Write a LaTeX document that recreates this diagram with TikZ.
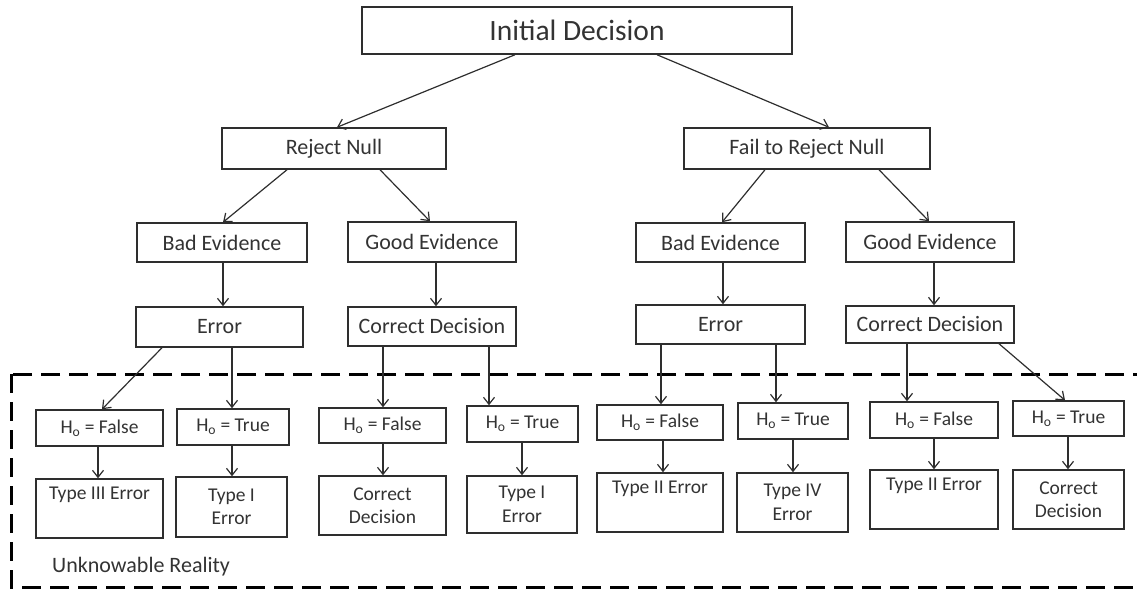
\documentclass[tikz,border=0pt]{standalone}
\usepackage{fontspec}
\setmainfont{Carlito}
\usetikzlibrary{arrows.meta}
\definecolor{linec}{HTML}{2E2E2E}
\definecolor{txtc}{HTML}{333333}
\begin{document}
\begin{tikzpicture}[x=1pt,y=-1pt,
  bx/.style={draw=linec, line width=1.5pt, fill=white, inner sep=0pt, text=txtc, align=center},
  lvA/.style={bx, font=\fontsize{29.5}{34}\selectfont},
  lvB/.style={bx, font=\fontsize{22}{26}\selectfont},
  lvC/.style={bx, font=\fontsize{19.5}{23.5}\selectfont},
  arr/.style={draw=linec, line width=1.2pt, -{Straight Barb[length=7pt,width=11pt,line width=1.2pt]}},
  region/.style={draw=black, line width=3pt, dash pattern=on 19pt off 9pt},
]
\useasboundingbox (0,0) rectangle (1137,589);

% dashed region
\draw[region] (11,374) rectangle (1138.5,587);
\node[anchor=west, inner sep=0pt, text=txtc, font=\fontsize{22}{26}\selectfont] (UR) at (52,567) {Unknowable Reality};

% top levels
\node[lvA, minimum width=430pt, minimum height=47pt] (ID) at (577,30.5) {Initial Decision};
\node[lvB, minimum width=224pt, minimum height=41pt] (RN) at (334,148.5) {Reject Null};
\node[lvB, minimum width=246pt, minimum height=41pt] (FRN) at (807,148.5) {Fail to Reject Null};

\node[lvB, minimum width=170pt, minimum height=39pt] (BEL) at (222,242.5) {Bad Evidence};
\node[lvB, minimum width=168pt, minimum height=40pt] (GEL) at (432,242) {Good Evidence};
\node[lvB, minimum width=167pt, minimum height=40pt] (ERL) at (219.5,327) {Error};
\node[lvB, minimum width=168pt, minimum height=39pt] (CDL) at (432,326.5) {Correct Decision};

\node[lvB, minimum width=169pt, minimum height=39pt] (BER) at (720.5,242.5) {Bad Evidence};
\node[lvB, minimum width=168pt, minimum height=40pt] (GER) at (930,242) {Good Evidence};
\node[lvB, minimum width=169pt, minimum height=39pt] (ERR) at (720.5,324.5) {Error};
\node[lvB, minimum width=168pt, minimum height=37pt] (CDR) at (930,324.5) {Correct Decision};

% hypothesis level
\node[lvC, minimum width=127pt, minimum height=36pt] (HA) at (99.5,428) {H\textsubscript{o} = False};
\node[lvC, minimum width=112pt, minimum height=36pt] (HB) at (233,427) {H\textsubscript{o} = True};
\node[lvC, minimum width=127pt, minimum height=35pt] (HC) at (382.5,425.5) {H\textsubscript{o} = False};
\node[lvC, minimum width=111pt, minimum height=36pt] (HD) at (522.5,424) {H\textsubscript{o} = True};
\node[lvC, minimum width=126pt, minimum height=35pt] (HE) at (660,422.5) {H\textsubscript{o} = False};
\node[lvC, minimum width=110pt, minimum height=36pt] (HF) at (793,421) {H\textsubscript{o} = True};
\node[lvC, minimum width=128pt, minimum height=36pt] (HG) at (934,420) {H\textsubscript{o} = False};
\node[lvC, minimum width=111pt, minimum height=35pt] (HH) at (1068.5,418.5) {H\textsubscript{o} = True};

% outcomes
\node[lvC, minimum width=127pt, minimum height=59pt] (OA) at (99.5,508.5) {Type III Error\\ \strut};
\node[lvC, minimum width=111pt, minimum height=60pt] (OB) at (231.5,507) {Type I\\Error};
\node[lvC, minimum width=127pt, minimum height=59pt] (OC) at (382.5,505.5) {Correct\\Decision};
\node[lvC, minimum width=110pt, minimum height=57pt] (OD) at (522,504.5) {Type I\\Error};
\node[lvC, minimum width=126pt, minimum height=59pt] (OE) at (660,502.5) {Type II Error\\ \strut};
\node[lvC, minimum width=111pt, minimum height=59pt] (OF) at (792.5,502.5) {Type IV\\Error};
\node[lvC, minimum width=128pt, minimum height=59pt] (OG) at (934,499.5) {Type II Error\\ \strut};
\node[lvC, minimum width=111pt, minimum height=59pt] (OH) at (1068.5,499.5) {Correct\\Decision};

% connectors
\draw[arr] (ID.south -| 515,0) -- (RN.north -| 337,0);
\draw[arr] (ID.south -| 657,0) -- (FRN.north -| 829,0);
\draw[arr] (RN.south -| 287,0) -- (BEL.north -| 223,0);
\draw[arr] (RN.south -| 380,0) -- (GEL.north -| 430,0);
\draw[arr] (FRN.south -| 765,0) -- (BER.north -| 722,0);
\draw[arr] (FRN.south -| 879,0) -- (GER.north -| 929,0);

\draw[arr] (BEL.south -| 223,0) -- (ERL.north -| 223,0);
\draw[arr] (GEL.south -| 436,0) -- (CDL.north -| 436,0);
\draw[arr] (BER.south -| 723,0) -- (ERR.north -| 723,0);
\draw[arr] (GER.south -| 934,0) -- (CDR.north -| 934,0);

\draw[arr] (ERL.south -| 162,0) -- (HA.north -| 102,0);
\draw[arr] (ERL.south -| 232,0) -- (HB.north -| 232,0);
\draw[arr] (CDL.south -| 383,0) -- (HC.north -| 383,0);
\draw[arr] (CDL.south -| 489,0) -- (HD.north -| 489,0);
\draw[arr] (ERR.south -| 661,0) -- (HE.north -| 661,0);
\draw[arr] (ERR.south -| 776,0) -- (HF.north -| 776,0);
\draw[arr] (CDR.south -| 907,0) -- (HG.north -| 907,0);
\draw[arr] (CDR.south -| 999,0) -- (HH.north -| 1065,0);

\draw[arr] (HA.south -| 98,0) -- (OA.north -| 98,0);
\draw[arr] (HB.south -| 232,0) -- (OB.north -| 232,0);
\draw[arr] (HC.south -| 383,0) -- (OC.north -| 383,0);
\draw[arr] (HD.south -| 522,0) -- (OD.north -| 522,0);
\draw[arr] (HE.south -| 663,0) -- (OE.north -| 663,0);
\draw[arr] (HF.south -| 793,0) -- (OF.north -| 793,0);
\draw[arr] (HG.south -| 934,0) -- (OG.north -| 934,0);
\draw[arr] (HH.south -| 1068,0) -- (OH.north -| 1068,0);
\end{tikzpicture}
\end{document}
